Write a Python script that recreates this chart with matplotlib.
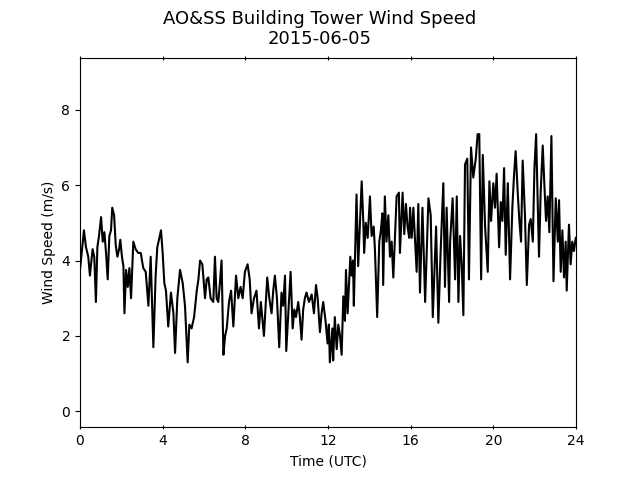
import matplotlib
matplotlib.use("Agg")
import matplotlib.pyplot as plt

# hours (UTC) and wind speed (m/s)
hours = [
    0.00, 0.19, 0.29, 0.40, 0.48, 0.61, 0.69, 0.77, 0.84, 0.92,
    1.02, 1.10, 1.18, 1.26, 1.34, 1.42, 1.50, 1.56, 1.65, 1.73,
    1.81, 1.89, 1.95, 2.03, 2.10, 2.15, 2.23, 2.31, 2.39, 2.47,
    2.58, 2.69, 2.82, 2.94, 3.06, 3.18, 3.31, 3.42, 3.55, 3.66,
    3.74, 3.92, 4.00, 4.08, 4.16, 4.27, 4.40, 4.52, 4.60, 4.71,
    4.84, 4.97, 5.08, 5.21, 5.29, 5.40, 5.52, 5.65, 5.73, 5.81,
    5.92, 6.05, 6.13, 6.21, 6.32, 6.45, 6.53, 6.61, 6.69, 6.77,
    6.85, 6.94, 7.02, 7.10, 7.21, 7.31, 7.42, 7.55, 7.66, 7.77,
    7.87, 7.98,
    8.11, 8.21, 8.30, 8.42, 8.54, 8.66, 8.75, 8.90, 8.98, 9.06,
    9.16, 9.27, 9.35, 9.43, 9.53, 9.64, 9.75, 9.83, 9.92, 9.98,
    10.08, 10.19, 10.29, 10.37, 10.45, 10.56, 10.64, 10.72, 10.80, 10.88,
    10.96, 11.08, 11.21, 11.32, 11.42, 11.50, 11.61, 11.69, 11.77, 11.88,
    11.98, 12.04, 12.09, 12.21, 12.25, 12.33, 12.42, 12.50, 12.58, 12.66,
    12.74, 12.82, 12.87, 12.95, 13.08, 13.14, 13.21, 13.25, 13.38, 13.46,
    13.54, 13.63, 13.71, 13.75, 13.83, 13.92, 14.03, 14.11, 14.21, 14.27,
    14.38, 14.43, 14.48, 14.56, 14.63, 14.67, 14.75, 14.83, 14.92, 15.00,
    15.08, 15.16, 15.24, 15.32, 15.43, 15.48, 15.61, 15.69, 15.77, 15.85,
    15.93,
    15.97, 16.05, 16.13, 16.29, 16.37, 16.45, 16.57, 16.70, 16.86, 16.97,
    17.07, 17.23, 17.34, 17.45, 17.58, 17.66, 17.74, 17.86, 17.91, 18.03,
    18.15, 18.23, 18.31, 18.39, 18.47, 18.55, 18.63, 18.74, 18.82, 18.92,
    19.03, 19.15, 19.24, 19.32, 19.41, 19.49, 19.60, 19.73, 19.81, 19.89,
    20.00, 20.08, 20.16, 20.28, 20.36, 20.44, 20.52, 20.60, 20.70, 20.81,
    20.92, 21.00, 21.08, 21.18, 21.26, 21.34, 21.42, 21.53, 21.62, 21.73,
    21.81, 21.91, 21.99, 22.07, 22.15, 22.21, 22.29, 22.39, 22.47, 22.55,
    22.63, 22.71, 22.81, 22.91, 23.02, 23.12, 23.18, 23.26, 23.34, 23.42,
    23.50, 23.55, 23.66, 23.74, 23.82, 23.90, 23.99,
]

speed = [
    3.75, 4.80, 4.35, 4.10, 3.60, 4.30, 4.10, 2.90, 4.35, 4.65,
    5.15, 4.50, 4.75, 4.20, 3.50, 4.65, 4.80, 5.40, 5.20, 4.40,
    4.10, 4.30, 4.55, 4.10, 3.85, 2.60, 3.75, 3.30, 3.80, 3.00,
    4.50, 4.30, 4.20, 4.20, 3.80, 3.70, 2.80, 4.10, 1.70, 3.60,
    4.35, 4.80, 4.20, 3.40, 3.20, 2.25, 3.15, 2.60, 1.55, 3.00,
    3.75, 3.40, 2.80, 1.30, 2.30, 2.20, 2.50, 3.20, 3.50, 4.00,
    3.90, 3.00, 3.50, 3.55, 3.00, 2.90, 4.10, 3.00, 2.90, 3.40,
    4.00, 1.50, 2.00, 2.20, 2.90, 3.20, 2.25, 3.60, 3.00, 3.30,
    3.00, 3.70,
    3.90, 3.50, 2.60, 3.00, 3.20, 2.20, 2.90, 2.00, 2.80, 3.55,
    3.00, 2.60, 3.20, 3.60, 3.00, 1.70, 3.15, 2.80, 3.60, 1.60,
    2.60, 3.70, 2.20, 2.70, 2.50, 2.90, 2.50, 1.90, 2.70, 3.00,
    3.15, 2.90, 3.10, 2.60, 3.35, 3.00, 2.10, 2.60, 2.90, 2.40,
    1.80, 2.30, 1.30, 2.20, 1.35, 2.50, 1.65, 2.30, 2.00, 1.50,
    3.05, 2.40, 3.75, 2.60, 4.10, 3.60, 4.00, 2.80, 5.75, 3.85,
    4.90, 6.10, 5.00, 4.20, 5.00, 4.60, 5.70, 4.65, 4.90, 4.30,
    2.50, 3.50, 4.50, 4.80, 5.25, 3.35, 5.70, 4.50, 5.20, 4.10,
    4.50, 3.55, 4.60, 5.70, 5.80, 4.20, 5.80, 4.70, 5.50, 4.90,
    4.60,
    5.40, 4.60, 5.40, 3.70, 5.50, 3.15, 5.40, 2.90, 5.65, 5.20,
    2.50, 4.90, 2.35, 4.25, 6.05, 3.30, 5.40, 2.90, 4.50, 5.65,
    3.50, 5.70, 2.90, 4.65, 3.90, 2.55, 6.55, 6.70, 3.50, 7.00,
    6.20, 6.70, 7.35, 7.35, 3.50, 6.80, 4.90, 3.70, 6.10, 5.05,
    6.05, 5.40, 6.30, 4.35, 5.55, 5.05, 6.45, 4.15, 6.05, 3.50,
    5.40, 6.25, 6.90, 5.80, 5.05, 4.50, 6.65, 5.20, 3.35, 4.95,
    5.10, 4.50, 6.45, 7.35, 5.55, 4.10, 5.80, 7.05, 6.00, 5.05,
    5.70, 4.75, 7.30, 3.45, 5.65, 4.50, 5.60, 3.70, 4.80, 3.55,
    4.50, 3.20, 4.95, 3.90, 4.50, 4.25, 4.60,
]

fig, ax = plt.subplots(figsize=(6.4, 4.8), dpi=100)
ax.plot(hours, speed, color='k', linewidth=1.5)

fig.suptitle("AO&SS Building Tower Wind Speed\n2015-06-05", fontsize=13)
ax.set_xlabel("Time (UTC)")
ax.set_ylabel("Wind Speed (m/s)")
ax.set_xlim(0, 24)
ax.set_ylim(-0.42, 9.38)
ax.set_xticks(range(0, 25, 4))
ax.set_yticks([0, 2, 4, 6, 8])
ax.tick_params(axis='x', direction='inout', top=True)

fig.savefig("out.png", dpi=100)
